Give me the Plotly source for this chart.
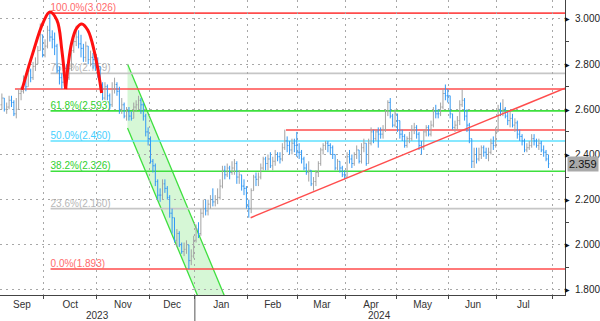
import pandas as pd
import plotly.graph_objects as go

# ---------------- calendar (trading days) ----------------
HOLIDAYS = {"2023-12-25", "2023-12-26", "2024-01-01", "2024-03-29", "2024-04-01", "2024-05-01"}
calendar = [d for d in pd.bdate_range("2023-09-01", "2024-08-30")
            if d.strftime("%Y-%m-%d") not in HOLIDAYS]

# ---------------- daily OHLC (yield, %) ----------------
opens = [
    2.53, 2.55, 2.57, 2.62, 2.65, 2.60, 2.61, 2.64, 2.63, 2.58, 2.60, 2.67, 2.68, 2.73, 2.70, 2.77, 2.74, 2.79, 2.80, 2.86, 2.93,
    2.84, 2.88, 2.95, 2.92, 2.91, 2.88, 2.77, 2.74, 2.72, 2.78, 2.74, 2.78, 2.86, 2.90, 2.92, 2.89, 2.87, 2.83, 2.88, 2.82, 2.83, 2.82,
    2.80, 2.79, 2.71, 2.65, 2.70, 2.66, 2.62, 2.69, 2.71, 2.68, 2.60, 2.62, 2.57, 2.59, 2.57, 2.56, 2.61, 2.62, 2.64, 2.62, 2.57, 2.50,
    2.47, 2.37, 2.35, 2.28, 2.22, 2.22, 2.27, 2.25, 2.21, 2.14, 2.12, 2.02, 2.05, 2.00, 1.97, 1.98, 2.00, 1.93, 1.95,
    2.02, 2.07, 2.05, 2.14, 2.16, 2.15, 2.18, 2.20, 2.19, 2.20, 2.21, 2.26, 2.33, 2.31, 2.34, 2.32, 2.34, 2.36, 2.30, 2.31, 2.26, 2.25,
    2.17, 2.16, 2.24, 2.30, 2.29, 2.30, 2.34, 2.38, 2.36, 2.38, 2.35, 2.37, 2.40, 2.39, 2.38, 2.43, 2.46, 2.44, 2.42, 2.45, 2.44,
    2.41, 2.41, 2.38, 2.34, 2.32, 2.33, 2.27, 2.28, 2.32, 2.36, 2.42, 2.44, 2.45, 2.44, 2.43, 2.40, 2.34, 2.37, 2.34, 2.31,
    2.30, 2.39, 2.38, 2.36, 2.40, 2.42, 2.37, 2.43, 2.45, 2.36, 2.45, 2.50, 2.47, 2.50, 2.49, 2.49, 2.51, 2.59, 2.63, 2.57, 2.53,
    2.58, 2.55, 2.49, 2.48, 2.44, 2.47, 2.47, 2.51, 2.52, 2.49, 2.44, 2.43, 2.50, 2.52, 2.49, 2.53, 2.59, 2.58, 2.58, 2.61, 2.67, 2.66,
    2.66, 2.58, 2.52, 2.53, 2.55, 2.62, 2.64, 2.57, 2.53, 2.47, 2.37, 2.40, 2.38, 2.40, 2.43, 2.41, 2.40, 2.41, 2.45, 2.44,
    2.50, 2.60, 2.59, 2.60, 2.57, 2.55, 2.56, 2.53, 2.54, 2.49, 2.48, 2.46, 2.42, 2.43, 2.44, 2.47, 2.46, 2.44, 2.45, 2.42, 2.41, 2.38,
]
highs = [
    2.58, 2.59, 2.63, 2.67, 2.65, 2.63, 2.66, 2.66, 2.64, 2.65, 2.69, 2.70, 2.75, 2.74, 2.80, 2.78, 2.81, 2.83, 2.88, 2.98, 2.93,
    2.91, 2.97, 3.026, 2.95, 2.94, 2.89, 2.79, 2.76, 2.80, 2.80, 2.80, 2.88, 2.93, 2.97, 2.95, 2.93, 2.89, 2.90, 2.88, 2.86, 2.85, 2.84,
    2.83, 2.79, 2.72, 2.72, 2.71, 2.67, 2.72, 2.74, 2.72, 2.70, 2.65, 2.63, 2.61, 2.61, 2.59, 2.63, 2.64, 2.66, 2.65, 2.63, 2.58, 2.52,
    2.48, 2.38, 2.36, 2.29, 2.25, 2.29, 2.29, 2.26, 2.22, 2.16, 2.12, 2.07, 2.06, 2.01, 2.01, 2.02, 2.00, 1.98, 2.04,
    2.09, 2.10, 2.16, 2.20, 2.20, 2.20, 2.22, 2.25, 2.22, 2.25, 2.29, 2.35, 2.35, 2.36, 2.35, 2.37, 2.38, 2.37, 2.33, 2.31, 2.29, 2.26,
    2.20, 2.25, 2.31, 2.32, 2.32, 2.36, 2.39, 2.39, 2.40, 2.41, 2.39, 2.42, 2.41, 2.41, 2.45, 2.51, 2.48, 2.46, 2.47, 2.47, 2.50,
    2.45, 2.42, 2.39, 2.36, 2.37, 2.33, 2.30, 2.33, 2.37, 2.43, 2.45, 2.46, 2.46, 2.45, 2.44, 2.40, 2.38, 2.37, 2.35, 2.33,
    2.41, 2.42, 2.40, 2.41, 2.44, 2.42, 2.45, 2.47, 2.45, 2.47, 2.52, 2.51, 2.51, 2.52, 2.52, 2.53, 2.60, 2.64, 2.65, 2.58, 2.60,
    2.58, 2.55, 2.51, 2.49, 2.48, 2.50, 2.53, 2.54, 2.53, 2.50, 2.46, 2.51, 2.53, 2.53, 2.55, 2.61, 2.62, 2.60, 2.63, 2.69, 2.71, 2.69,
    2.66, 2.58, 2.55, 2.57, 2.64, 2.69, 2.65, 2.60, 2.54, 2.47, 2.43, 2.43, 2.43, 2.44, 2.44, 2.43, 2.43, 2.47, 2.48, 2.52,
    2.62, 2.63, 2.645, 2.61, 2.59, 2.59, 2.58, 2.56, 2.55, 2.51, 2.49, 2.47, 2.45, 2.46, 2.49, 2.49, 2.47, 2.47, 2.46, 2.44, 2.42, 2.40,
]
lows = [
    2.52, 2.54, 2.56, 2.60, 2.59, 2.58, 2.60, 2.61, 2.57, 2.56, 2.60, 2.64, 2.67, 2.68, 2.70, 2.72, 2.73, 2.77, 2.80, 2.86, 2.83,
    2.83, 2.87, 2.90, 2.87, 2.84, 2.76, 2.71, 2.69, 2.70, 2.72, 2.73, 2.77, 2.85, 2.88, 2.87, 2.83, 2.81, 2.81, 2.80, 2.79, 2.78, 2.77,
    2.74, 2.69, 2.64, 2.64, 2.64, 2.60, 2.61, 2.67, 2.66, 2.58, 2.58, 2.56, 2.55, 2.55, 2.55, 2.56, 2.59, 2.60, 2.58, 2.55, 2.48, 2.44,
    2.36, 2.32, 2.26, 2.20, 2.19, 2.20, 2.23, 2.20, 2.12, 2.05, 2.01, 1.99, 1.99, 1.96, 1.95, 1.96, 1.893, 1.91, 1.94,
    2.01, 2.03, 2.04, 2.12, 2.13, 2.13, 2.16, 2.17, 2.17, 2.18, 2.20, 2.25, 2.29, 2.30, 2.29, 2.31, 2.31, 2.27, 2.27, 2.24, 2.22, 2.16,
    2.12, 2.14, 2.24, 2.26, 2.26, 2.29, 2.33, 2.33, 2.33, 2.34, 2.33, 2.35, 2.37, 2.36, 2.37, 2.42, 2.41, 2.40, 2.40, 2.41, 2.39,
    2.38, 2.36, 2.33, 2.31, 2.28, 2.26, 2.24, 2.26, 2.30, 2.35, 2.40, 2.42, 2.41, 2.40, 2.38, 2.33, 2.33, 2.32, 2.30, 2.29,
    2.30, 2.36, 2.34, 2.35, 2.38, 2.36, 2.36, 2.41, 2.35, 2.36, 2.44, 2.45, 2.46, 2.43, 2.47, 2.47, 2.50, 2.57, 2.56, 2.52, 2.52,
    2.50, 2.47, 2.46, 2.43, 2.43, 2.45, 2.46, 2.49, 2.47, 2.42, 2.40, 2.42, 2.48, 2.48, 2.48, 2.52, 2.56, 2.56, 2.57, 2.60, 2.64, 2.63,
    2.56, 2.51, 2.50, 2.51, 2.53, 2.61, 2.55, 2.50, 2.45, 2.34, 2.34, 2.36, 2.37, 2.38, 2.39, 2.38, 2.37, 2.40, 2.42, 2.43,
    2.50, 2.57, 2.57, 2.56, 2.53, 2.52, 2.52, 2.50, 2.47, 2.46, 2.44, 2.41, 2.41, 2.42, 2.43, 2.44, 2.43, 2.42, 2.41, 2.39, 2.37, 2.34,
]
closes = [
    2.55, 2.57, 2.62, 2.65, 2.60, 2.61, 2.64, 2.63, 2.58, 2.60, 2.67, 2.68, 2.73, 2.70, 2.77, 2.74, 2.79, 2.80, 2.86, 2.93, 2.84,
    2.88, 2.95, 2.92, 2.91, 2.88, 2.77, 2.74, 2.72, 2.78, 2.74, 2.78, 2.86, 2.90, 2.92, 2.89, 2.87, 2.83, 2.88, 2.82, 2.83, 2.82, 2.80,
    2.79, 2.71, 2.65, 2.70, 2.66, 2.62, 2.69, 2.71, 2.68, 2.60, 2.62, 2.57, 2.59, 2.57, 2.56, 2.61, 2.62, 2.64, 2.62, 2.57, 2.50, 2.47,
    2.37, 2.35, 2.28, 2.22, 2.22, 2.27, 2.25, 2.21, 2.14, 2.12, 2.02, 2.05, 2.00, 1.97, 1.98, 2.00, 1.93, 1.95, 2.02,
    2.07, 2.05, 2.14, 2.16, 2.15, 2.18, 2.20, 2.19, 2.20, 2.21, 2.26, 2.33, 2.31, 2.34, 2.32, 2.34, 2.36, 2.30, 2.31, 2.26, 2.25, 2.17,
    2.16, 2.24, 2.30, 2.29, 2.30, 2.34, 2.38, 2.36, 2.38, 2.35, 2.37, 2.40, 2.39, 2.38, 2.43, 2.46, 2.44, 2.42, 2.45, 2.44, 2.41,
    2.41, 2.38, 2.34, 2.32, 2.33, 2.27, 2.28, 2.32, 2.36, 2.42, 2.44, 2.45, 2.44, 2.43, 2.40, 2.34, 2.37, 2.34, 2.31, 2.30,
    2.39, 2.38, 2.36, 2.40, 2.42, 2.37, 2.43, 2.45, 2.36, 2.45, 2.50, 2.47, 2.50, 2.49, 2.49, 2.51, 2.59, 2.63, 2.57, 2.53, 2.58,
    2.55, 2.49, 2.48, 2.44, 2.47, 2.47, 2.51, 2.52, 2.49, 2.44, 2.43, 2.50, 2.52, 2.49, 2.53, 2.59, 2.58, 2.58, 2.61, 2.67, 2.66, 2.66,
    2.58, 2.52, 2.53, 2.55, 2.62, 2.64, 2.57, 2.53, 2.47, 2.37, 2.40, 2.38, 2.40, 2.43, 2.41, 2.40, 2.41, 2.45, 2.44, 2.50,
    2.60, 2.59, 2.60, 2.57, 2.55, 2.56, 2.53, 2.54, 2.49, 2.48, 2.46, 2.42, 2.43, 2.44, 2.47, 2.46, 2.44, 2.45, 2.42, 2.41, 2.38, 2.359,
]

# ---------------- Fibonacci levels ----------------
fib_pcts = ["100.0%", "76.4%", "61.8%", "50.0%", "38.2%", "23.6%", "0.0%"]
fib_levels = [3.026, 2.759, 2.593, 2.460, 2.326, 2.160, 1.893]

# ---------------- other drawn studies (index units / yield) ----------------
neckline = 2.69
resistance = 2.508
trend_x = [106.76, 237.9]
trend_y = [2.12, 2.694]
top1_x = [11.35, 15.9, 20.1, 23.0, 25.9, 28.0, 29.6]
top1_y = [2.686, 2.849, 2.982, 3.031, 2.996, 2.863, 2.69]
top2_x = [29.6, 32.1, 34.2, 36.3, 38.8, 41.7, 44.6]
top2_y = [2.69, 2.894, 2.960, 2.978, 2.951, 2.849, 2.672]
channel_x0 = 55.4
channel_top = 2.801
channel_bot = 2.517
channel_slope = -0.0254

y_ticks = [1.8, 2.0, 2.2, 2.4, 2.6, 2.8, 3.0]
y_minor = [1.9, 2.1, 2.3, 2.5, 2.7, 2.9]

# ---------------- layout constants ----------------
X_RANGE = [2.21, 237.9]
Y_RANGE = [1.7777, 3.0841]
FONT = "Liberation Sans, Arial, sans-serif"
RED = "#ff4d4d"
GREEN = "#3ee03e"
CYAN = "#5fe0ff"
GREY = "#c6c6c6"
fib_line_colors = [RED, GREY, GREEN, CYAN, GREEN, GREY, RED]
fib_text_colors = ["#ff6b6b", "#b8b8b8", "#30d030", "#45cfff", "#30d030", "#b8b8b8", "#ff6b6b"]
GRID = "#a8a8a8"

n = len(closes)
xs = list(range(n))

# month boundaries (ticks + vertical grid) and month labels
bounds = [k - 0.5 for k in range(1, len(calendar)) if calendar[k].month != calendar[k - 1].month]
bounds = [b for b in bounds if X_RANGE[0] < b < X_RANGE[1]]
year_bounds = [k - 0.5 for k in range(1, len(calendar)) if calendar[k].year != calendar[k - 1].year]
year_bounds = [b for b in year_bounds if X_RANGE[0] < b < X_RANGE[1]]

month_pos, month_txt = [], []
i = 0
while i < n:
    j = i
    while j + 1 < n and calendar[j + 1].month == calendar[i].month:
        j += 1
    lo, hi = max(i - 0.5, X_RANGE[0]), min(j + 0.5, X_RANGE[1])
    month_pos.append((lo + hi) / 2)
    month_txt.append(calendar[i].strftime("%b"))
    i = j + 1

year_pos, year_txt = [], []
visible = [k for k in range(len(calendar)) if k - 0.5 < X_RANGE[1]]
i = 0
while i < len(visible):
    j = i
    while j + 1 < len(visible) and calendar[visible[j + 1]].year == calendar[visible[i]].year:
        j += 1
    lo, hi = max(visible[i] - 0.5, X_RANGE[0]), min(visible[j] + 0.5, X_RANGE[1])
    year_pos.append((lo + hi) / 2)
    year_txt.append(str(calendar[visible[i]].year))
    i = j + 1

fig = go.Figure()

fig.add_trace(go.Ohlc(
    x=xs, open=opens, high=highs, low=lows, close=closes,
    increasing=dict(line=dict(color="#a3a3a3", width=1)),
    decreasing=dict(line=dict(color="#3399f3", width=1)),
    tickwidth=0.4, hoverinfo="skip", showlegend=False,
))

# double-top arcs
for ax_, ay_ in ((top1_x, top1_y), (top2_x, top2_y)):
    fig.add_trace(go.Scatter(x=ax_, y=ay_, mode="lines",
                             line=dict(color="#ff1010", width=3, shape="spline", smoothing=1.1),
                             hoverinfo="skip", showlegend=False))

# rising trend line
fig.add_trace(go.Scatter(x=trend_x, y=trend_y, mode="lines",
                         line=dict(color=RED, width=1.5), hoverinfo="skip", showlegend=False))

shapes = []
# descending channel
y_low = 1.6
xt = channel_x0 + (y_low - channel_top) / channel_slope
xb = channel_x0 + (y_low - channel_bot) / channel_slope
shapes.append(dict(type="path", xref="x", yref="y", layer="below",
                   path=f"M {channel_x0},{channel_top} L {xt},{y_low} L {xb},{y_low} L {channel_x0},{channel_bot} Z",
                   fillcolor="rgba(120,230,120,0.3)", line=dict(width=0)))
for y0 in (channel_top, channel_bot):
    x1 = channel_x0 + (y_low - y0) / channel_slope
    shapes.append(dict(type="line", xref="x", yref="y", layer="below",
                       x0=channel_x0, y0=y0, x1=x1, y1=y_low, line=dict(color=GREEN, width=1.3)))

# fib levels with labels
for pct, lvl, lc, tc in zip(fib_pcts, fib_levels, fib_line_colors, fib_text_colors):
    shapes.append(dict(
        type="line", xref="x", yref="y", layer="below",
        x0=top1_x[3] + 0.3, x1=X_RANGE[1] + 5, y0=lvl, y1=lvl,
        line=dict(color=lc, width=1.6),
        label=dict(text=f"{pct}({lvl:.3f})", textposition="start", xanchor="left",
                   yanchor="bottom", padding=1,
                   font=dict(family=FONT, size=10, color=tc)),
    ))

# neckline and resistance
shapes.append(dict(type="line", xref="x", yref="y", layer="below",
                   x0=top1_x[0] - 2.9, x1=X_RANGE[1] + 5, y0=neckline, y1=neckline,
                   line=dict(color=RED, width=1.5)))
shapes.append(dict(type="line", xref="x", yref="y", layer="below",
                   x0=121.5, x1=X_RANGE[1] + 5, y0=resistance, y1=resistance,
                   line=dict(color=RED, width=1.5)))

# year divider below the axis
for b in year_bounds:
    shapes.append(dict(type="line", xref="x", yref="paper", x0=b, x1=b, y0=0, y1=-0.09,
                       line=dict(color="#555555", width=1)))

annotations = []
for yp, yt in zip(year_pos, year_txt):
    annotations.append(dict(x=yp, y=0, xref="x", yref="paper", yanchor="top", yshift=-13,
                            text=yt, showarrow=False, font=dict(family=FONT, size=10, color="#333333")))
for v in y_ticks:
    annotations.append(dict(x=1, y=v, xref="paper", yref="y", xanchor="left", xshift=-2,
                            text="▶", showarrow=False, font=dict(family="DejaVu Sans", size=6, color="#111111")))
annotations.append(dict(x=1, y=closes[-1], xref="paper", yref="y", xanchor="left", xshift=2,
                        text=f"{closes[-1]:.3f}", showarrow=False, bgcolor="#a9a9a9",
                        borderpad=1, font=dict(family=FONT, size=11, color="#111111")))

fig.update_layout(
    width=600, height=321,
    margin=dict(l=0, r=33, t=0, b=26),
    paper_bgcolor="white", plot_bgcolor="white",
    showlegend=False,
    shapes=shapes, annotations=annotations,
    font=dict(family=FONT, size=10, color="#333333"),
    xaxis=dict(
        range=X_RANGE, rangeslider=dict(visible=False),
        tickmode="array", tickvals=month_pos, ticktext=month_txt, ticks="",
        showgrid=False, zeroline=False,
        showline=True, linecolor="#444444", linewidth=1,
        tickfont=dict(family=FONT, size=10, color="#333333"),
        minor=dict(tickmode="array", tickvals=bounds, ticks="outside", ticklen=3,
                   tickcolor="#444444", showgrid=True, gridcolor=GRID, griddash="2px,4px", gridwidth=1),
    ),
    yaxis=dict(
        side="right", range=Y_RANGE,
        tickmode="array", tickvals=y_ticks, ticktext=[f"{v:.3f}" for v in y_ticks], ticks="",
        showgrid=True, gridcolor=GRID, griddash="2px,4px", gridwidth=1, zeroline=False,
        showline=True, linecolor="#444444", linewidth=1,
        ticklabelstandoff=7,
        tickfont=dict(family=FONT, size=10, color="#222222"),
        minor=dict(tickmode="array", tickvals=y_minor, ticks="outside", ticklen=3,
                   tickcolor="#444444", showgrid=False),
    ),
)

fig.write_html("out.html")
